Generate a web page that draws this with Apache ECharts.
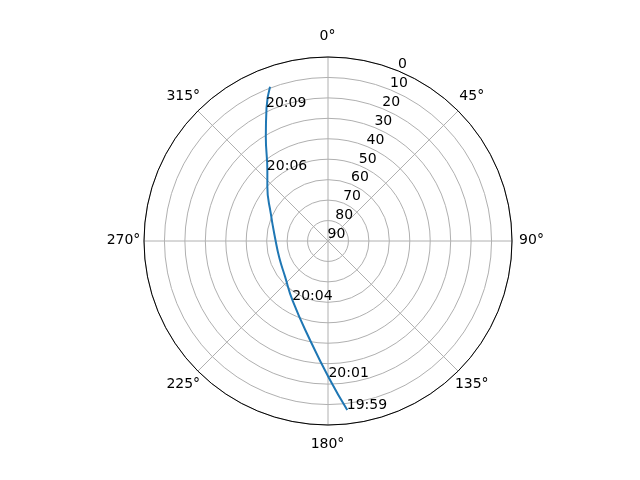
<!DOCTYPE html>
<html><head><meta charset="utf-8">
<script src="https://cdn.jsdelivr.net/npm/echarts@6/dist/echarts.min.js"></script>
<style>html,body{margin:0;padding:0;background:#fff}#c{width:640px;height:480px}</style>
</head><body><div id="c"></div>
<script>
// pass track: azimuth (deg, clockwise from north) and elevation (deg)
const trackAz = [173.5, 179.6, 190.3, 210.5, 230.3, 250.7, 271.1, 295.8, 311.8, 319.1, 329.2, 335.2, 339.4];
const trackEl = [6.8, 23.0, 40.8, 56.0, 62.7, 64.8, 64.3, 58.9, 50.2, 44.7, 30.6, 18.3, 9.4];
// time annotations
const timeLabels = ['19:59', '20:01', '20:04', '20:06', '20:09'];
const timeAz = [173.5, 179.6, 210.5, 319.1, 335.2];
const timeEl = [6.8, 23.0, 56.0, 44.7, 18.3];
// radial tick labels (elevation)
const rTicks = [0, 10, 20, 30, 40, 50, 60, 70, 80, 90];
const rLabelAngle = 22.5;
// angular tick labels (azimuth)
const aTicks = [0, 45, 90, 135, 180, 225, 270, 315];

const R = 184;          // polar radius in px
const labelPad = 20;    // angle label centre distance outside the circle, px
const aLabelRadius = -labelPad / R * 90;   // same distance expressed on the (inverted) radius axis

const chart = echarts.init(document.getElementById('c'));
const font = 'DejaVu Sans';
const invisible = { color: 'rgba(0,0,0,0)', opacity: 1 };
const txt = { color: '#000', opacity: 1, textBorderWidth: 0, fontSize: 14, fontFamily: font };
chart.setOption({
  backgroundColor: '#fff',
  animation: false,
  polar: { center: [328, 241], radius: R },
  angleAxis: {
    type: 'value', min: 0, max: 360, interval: 45, startAngle: 90, clockwise: true,
    axisLine: { show: true, lineStyle: { color: '#000', width: 1 } },
    axisTick: { show: false },
    axisLabel: { show: false },
    splitLine: { show: true, lineStyle: { color: '#b0b0b0', width: 1 } }
  },
  radiusAxis: {
    type: 'value', min: 0, max: 90, interval: 10, inverse: true,
    axisLine: { show: false }, axisTick: { show: false }, axisLabel: { show: false },
    splitLine: { show: true, lineStyle: { color: '#b0b0b0', width: 1 } }
  },
  series: [
    {
      type: 'line', coordinateSystem: 'polar', smooth: 0.5, symbol: 'none',
      lineStyle: { color: '#1f77b4', width: 2 },
      data: trackAz.map((a, i) => [trackEl[i], a]), z: 3
    },
    {
      type: 'scatter', coordinateSystem: 'polar', symbolSize: 1,
      itemStyle: invisible,
      label: Object.assign({ show: true, position: [0, 0], align: 'left', verticalAlign: 'bottom', offset: [0, 3],
        formatter: p => timeLabels[p.dataIndex] }, txt),
      data: timeAz.map((a, i) => [timeEl[i], a]), z: 4
    },
    {
      type: 'scatter', coordinateSystem: 'polar', symbolSize: 1,
      itemStyle: invisible,
      label: Object.assign({ show: true, position: [0, 0], align: 'left', verticalAlign: 'bottom', offset: [0, 1],
        formatter: p => String(rTicks[p.dataIndex]) }, txt),
      data: rTicks.map(r => [r, rLabelAngle]), z: 4
    },
    {
      type: 'scatter', coordinateSystem: 'polar', symbolSize: 1, clip: false,
      itemStyle: invisible,
      label: Object.assign({ show: true, position: [0, 0], align: 'center', verticalAlign: 'middle',
        formatter: p => aTicks[p.dataIndex] + '°' }, txt),
      data: aTicks.map(a => [aLabelRadius, a]), z: 4
    }
  ]
});
</script></body></html>
